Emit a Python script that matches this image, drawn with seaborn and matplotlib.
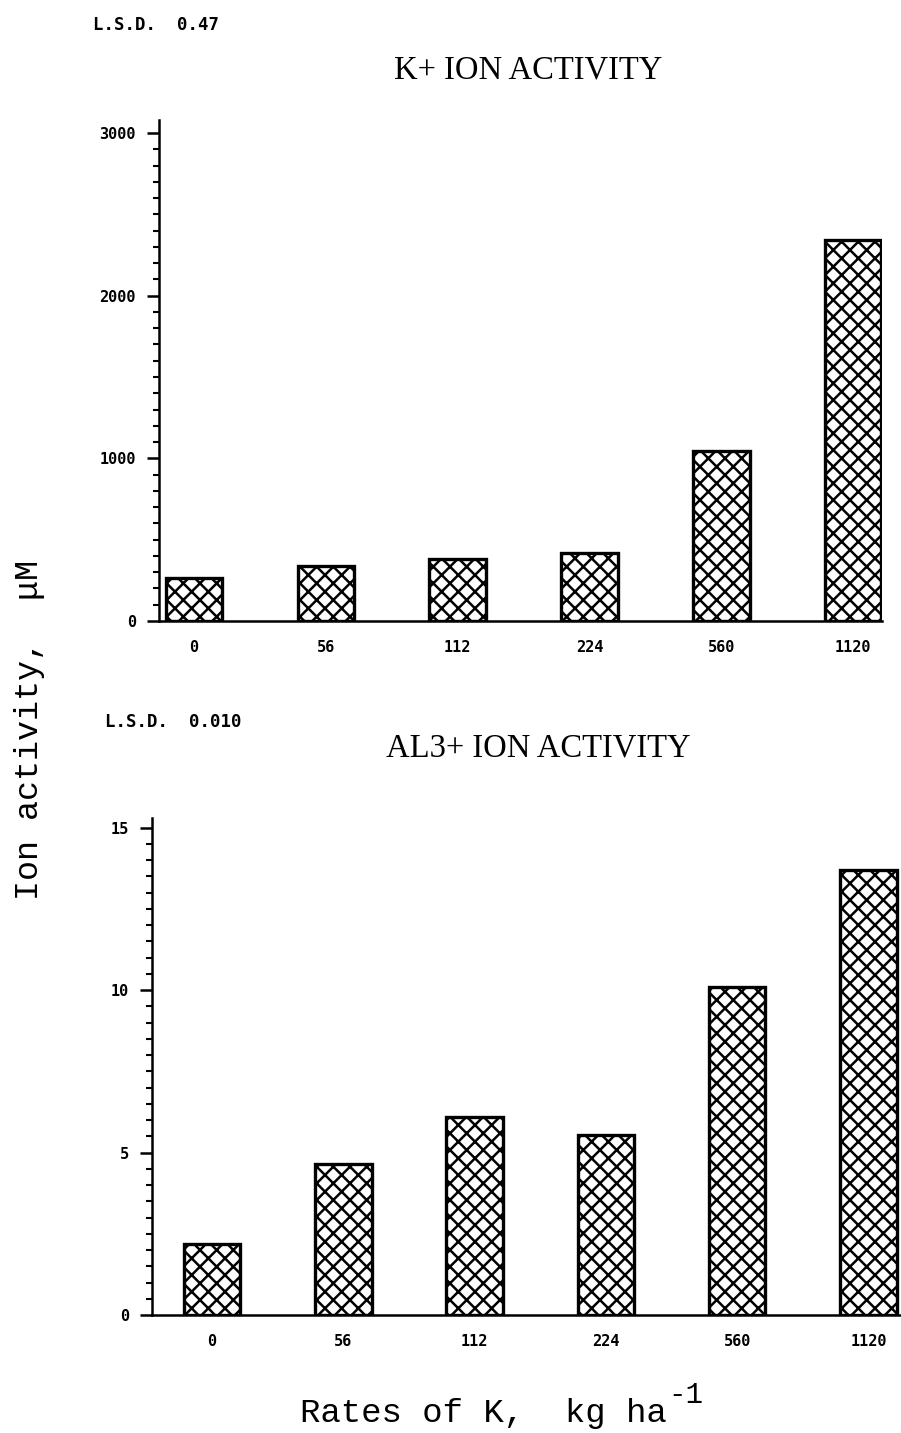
import matplotlib
matplotlib.use('Agg')
import matplotlib.pyplot as plt
from matplotlib.ticker import MultipleLocator
import seaborn as sns
import pandas as pd

# K application rates (x categories)
rates = ['0', '56', '112', '224', '560', '1120']

# ion activity, uM
k_activity = [265, 340, 380, 420, 1045, 2340]
al_activity = [2.2, 4.65, 6.1, 5.55, 10.1, 13.7]

k_df = pd.DataFrame({'rate': rates, 'activity': k_activity})
al_df = pd.DataFrame({'rate': rates, 'activity': al_activity})

sns.set_style('ticks')
plt.rcParams['font.family'] = ['DejaVu Sans Mono', 'DejaVu Sans']
plt.rcParams['hatch.linewidth'] = 1.8
plt.rcParams['hatch.color'] = 'black'
# pure black ink like the original print
for key in ['text.color', 'axes.labelcolor', 'xtick.color', 'ytick.color', 'axes.edgecolor']:
    plt.rcParams[key] = 'black'

fig = plt.figure(figsize=(9.01, 14.33), dpi=100)

# axes positions in figure fractions (pixel estimates from the reference)
ax_k = fig.add_axes([159 / 901, 1 - 621 / 1433, (882 - 159) / 901, (621 - 120) / 1433])
ax_al = fig.add_axes([152 / 901, 1 - 1315 / 1433, (900 - 152) / 901, (1315 - 818) / 1433])


def draw_panel(ax, df, ymax, major, minor, xlim):
    sns.barplot(data=df, x='rate', y='activity', order=rates, ax=ax,
                color='white', edgecolor='black', linewidth=2.4, width=0.43,
                saturation=1)
    for p in ax.patches:
        p.set_hatch('xx')
    ax.set_ylim(0, ymax)
    ax.set_xlim(*xlim)
    ax.yaxis.set_major_locator(MultipleLocator(major))
    ax.yaxis.set_minor_locator(MultipleLocator(minor))
    ax.tick_params(axis='y', which='major', length=8.5, width=1.8, pad=8,
                   labelsize=11, direction='out')
    ax.tick_params(axis='y', which='minor', length=4.5, width=1.5, direction='out')
    ax.tick_params(axis='x', length=0, pad=14, labelsize=11)
    for lab in ax.get_xticklabels() + ax.get_yticklabels():
        lab.set_fontweight('bold')
    ax.spines['top'].set_visible(False)
    ax.spines['right'].set_visible(False)
    ax.spines['left'].set_linewidth(1.8)
    ax.spines['bottom'].set_linewidth(1.8)
    ax.set_xlabel('')
    ax.set_ylabel('')
    ax.set_facecolor('white')


draw_panel(ax_k, k_df, 3080, 1000, 100, (-0.266, 5.22))
draw_panel(ax_al, al_df, 15.3, 5, 0.5, (-0.457, 5.24))

# titles and L.S.D. notes
fig.text(528 / 901, 1 - 70 / 1433, 'K+ ION ACTIVITY', family='Liberation Serif',
         fontsize=23.5, ha='center', va='center')
fig.text(538 / 901, 1 - 748 / 1433, 'AL3+ ION ACTIVITY', family='Liberation Serif',
         fontsize=23.5, ha='center', va='center')
fig.text(93 / 901, 1 - 25 / 1433, 'L.S.D.  0.47', fontsize=12.5,
         fontweight='bold', ha='left', va='center')
fig.text(105 / 901, 1 - 722 / 1433, 'L.S.D.  0.010', fontsize=12.5,
         fontweight='bold', ha='left', va='center')

# shared axis labels
fig.text(30 / 901, 1 - 730 / 1433, 'Ion activity,  μM', family='Liberation Mono',
         fontsize=24, rotation=90, ha='center', va='center')
fig.text(300 / 901, 1 - 1422 / 1433, 'Rates of K,  kg ha', family='Liberation Mono',
         fontsize=24.5, ha='left', va='baseline')
fig.text(668 / 901, 1 - 1403 / 1433, '-1', family='Liberation Mono',
         fontsize=21, ha='left', va='baseline')

fig.savefig('out.png', dpi=100, facecolor='white')
